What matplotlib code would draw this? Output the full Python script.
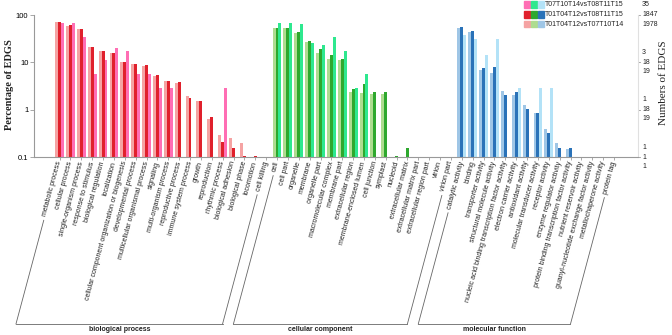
import numpy as np
import matplotlib
matplotlib.use('Agg')
import matplotlib.pyplot as plt
from matplotlib.lines import Line2D
from matplotlib.patches import Rectangle
from matplotlib.ticker import NullLocator

bp_cats = ['metabolic process', 'cellular process', 'single-organism process', 'response to stimulus',
           'biological regulation', 'localization', 'cellular component organization or biogenesis',
           'developmental process', 'multicellular organismal process', 'signaling',
           'multi-organism process', 'reproductive process', 'immune system process', 'growth',
           'reproduction', 'rhythmic process', 'biological adhesion', 'biological phase',
           'locomotion', 'cell killing']
cc_cats = ['cell', 'cell part', 'organelle', 'membrane', 'organelle part', 'macromolecular complex',
           'membrane part', 'extracellular region', 'membrane-enclosed lumen', 'cell junction',
           'symplast', 'nucleoid', 'extracellular matrix', 'extracellular matrix part',
           'extracellular region part', 'virion', 'virion part']
mf_cats = ['catalytic activity', 'binding', 'transporter activity', 'structural molecule activity',
           'nucleic acid binding transcription factor activity', 'electron carrier activity',
           'antioxidant activity', 'molecular transducer activity', 'receptor activity',
           'enzyme regulator activity', 'protein binding transcription factor activity',
           'nutrient reservoir activity', 'guanyl-nucleotide exchange factor activity',
           'metallochaperone activity', 'protein tag']

series_names = ['T07T10T14vsT08T11T15', 'T01T04T12vsT08T11T15', 'T01T04T12vsT07T10T14']

# percentages, 0 = no genes
s1_bp = [68.6, 68.6, 34.3, 5.71, 11.4, 20.0, 17.1, 5.71, 5.71, 2.86, 2.86, 0, 0, 0, 0, 2.86, 0, 0, 0, 0]
s1_cc = [68.6, 68.6, 65.7, 25.7, 22.9, 34.3, 17.1, 2.86, 5.71, 0, 0, 0, 0, 0, 0, 0, 0]
s1_mf = [37.1, 31.4, 14.3, 31.4, 0, 2.86, 0, 2.86, 2.86, 0, 0, 0, 0, 0, 0]

s2_bp = [72, 63, 50, 21, 17.7, 16, 10.4, 9.4, 8.9, 5.4, 4.1, 3.9, 1.78, 1.53, 0.70, 0.21, 0.16, 0.108, 0.108, 0]
s2_cc = [54, 54, 44, 28.8, 19, 14.4, 12, 2.76, 3.5, 2.42, 2.42, 0.108, 0.16, 0, 0, 0, 0]
s2_mf = [55, 45, 7.8, 7.9, 2.03, 2.35, 1.03, 0.85, 0.32, 0.16, 0.16, 0, 0, 0, 0]

s3_bp = [70, 60, 50, 21, 17.7, 15.6, 10.2, 9.4, 8.4, 5.2, 4.1, 3.7, 1.96, 1.56, 0.64, 0.30, 0.25, 0.20, 0, 0]
s3_cc = [52.6, 52.6, 41, 27.4, 15.6, 11.7, 11.3, 2.4, 2.24, 2.16, 2.16, 0, 0, 0, 0, 0, 0]
s3_mf = [52.6, 43, 6.9, 5.9, 2.5, 2.06, 1.27, 0.85, 0.40, 0.20, 0.15, 0, 0, 0, 0]

# colours per group: [series1, series2, series3]
col_bp = ['#ff6eb4', '#e0202c', '#f5a3a3']
col_cc = ['#2ee88f', '#2ea82e', '#aedc90']
col_mf = ['#b3e2f7', '#2a72b8', '#9fc6e6']

groups = [('biological process', bp_cats, [s1_bp, s2_bp, s3_bp], col_bp),
          ('cellular component', cc_cats, [s1_cc, s2_cc, s3_cc], col_cc),
          ('molecular function', mf_cats, [s1_mf, s2_mf, s3_mf], col_mf)]

W, H = 672, 335
fig = plt.figure(figsize=(W / 100, H / 100), dpi=100)
ax = fig.add_axes([34 / W, 177.7 / H, 604 / W, 142.3 / H])

w = 0.27
start = 0
all_cats = []
spans = []
for name, cats, vals, cols in groups:
    x = np.arange(start, start + len(cats))
    # light series on the left, then dark, then bright
    ax.bar(x - w, vals[2], w, color=cols[2], linewidth=0)
    ax.bar(x, vals[1], w, color=cols[1], linewidth=0)
    ax.bar(x + w, vals[0], w, color=cols[0], linewidth=0)
    all_cats += cats
    spans.append((name, start, start + len(cats) - 1))
    start += len(cats)

ax.set_yscale('log')
ax.set_ylim(0.1, 100)
ax.set_xlim(-2.35, 53.2)
ax.set_yticks([0.1, 1, 10, 100], ['0.1', '1', '10', '100'])
ax.yaxis.set_minor_locator(NullLocator())
ax.set_xticks(np.arange(len(all_cats)), all_cats, rotation=75, ha='right', va='center',
              rotation_mode='anchor', fontsize=5.0, family='Liberation Sans', color='#222222')
ax.tick_params(axis='x', length=2, width=0.5, color='#888888', pad=1)
ax.tick_params(axis='y', length=3, width=0.6, color='#999999', labelsize=5.5, pad=1)
for t in ax.get_yticklabels():
    t.set_family('Liberation Sans')
ax.spines['top'].set_visible(False)
ax.spines['left'].set_color('#999999')
ax.spines['bottom'].set_color('#999999')
ax.spines['right'].set_color('#e0e0e0')
for s in ['left', 'bottom', 'right']:
    ax.spines[s].set_linewidth(0.8)

# right side: numbers of genes
right_labels = [(100, ['35', '1847', '1978']), (10, ['3', '18', '19']),
                (1, ['1', '18', '19']), (0.1, ['1', '1', '1'])]
for v, labs in right_labels:
    for lab, off in zip(labs, [7.2, 0, -6.5]):
        ax.annotate(lab, xy=(1, v), xycoords=('axes fraction', 'data'), xytext=(3, off),
                    textcoords='offset points', ha='left', va='center', fontsize=5,
                    family='Liberation Sans', color='#222222', annotation_clip=False)
    ax.plot([1, 1.004], [v, v], transform=ax.get_yaxis_transform(), color='#999999',
            lw=0.6, clip_on=False)

fig.text(10 / W, 250 / H, 'Percentage of EDGS', rotation=90, ha='center', va='center',
         fontsize=7.5, family='Liberation Serif', weight='bold', color='#222222')
fig.text(663 / W, 252 / H, 'Numbers of EDGS', rotation=90, ha='center', va='center',
         fontsize=8, family='Liberation Serif', color='#222222')

# legend
rows_y = [330.3, 320.3, 311]
for i, yy in enumerate(rows_y):
    for j, cols in enumerate([col_bp, col_cc, col_mf]):
        fig.patches.append(Rectangle(((523.5 + 7 * j) / W, (yy - 3.3) / H), 6.5 / W, 6.5 / H,
                                     color=cols[i], transform=fig.transFigure, figure=fig))
    fig.text(545 / W, yy / H, series_names[i], ha='left', va='center', fontsize=5,
             family='Liberation Sans', color='#222222')

# brackets below labels
fig.canvas.draw()
renderer = fig.canvas.get_renderer()
ticklabels = ax.get_xticklabels()
ang = np.deg2rad(75)
ybot = 11
for name, i0, i1 in spans:
    xs_bot = []
    for idx in (i0, i1):
        xa, ya = ax.transData.transform((idx, 0.1))
        ya = ya - 4
        bb = ticklabels[idx].get_window_extent(renderer)
        ytop = bb.y0 - 3
        xt = xa - (ya - ytop) / np.tan(ang)
        xb = xa - (ya - ybot) / np.tan(ang)
        fig.add_artist(Line2D([xt / W, xb / W], [ytop / H, ybot / H], transform=fig.transFigure,
                              color='#666666', lw=0.6))
        xs_bot.append(xb)
    fig.add_artist(Line2D([xs_bot[0] / W, xs_bot[1] / W], [ybot / H, ybot / H],
                          transform=fig.transFigure, color='#666666', lw=0.6))
    fig.text((xs_bot[0] + xs_bot[1]) / 2 / W, 5.5 / H, name, ha='center', va='center',
             fontsize=5, weight='bold', family='Liberation Sans', color='#222222')

fig.savefig('out.png', dpi=100)
plt.close(fig)
